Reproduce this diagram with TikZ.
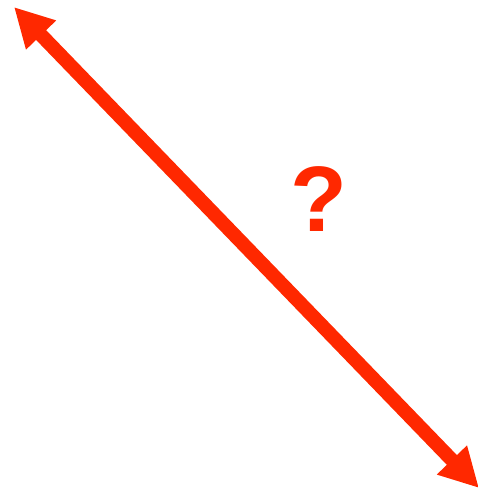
\documentclass[tikz,border=0pt]{standalone}
\usepackage{fontspec}
\setmainfont{Liberation Sans}
\usetikzlibrary{arrows.meta}
\definecolor{arrowred}{RGB}{255,40,0}
\tikzset{
  bigarrow/.style={draw=arrowred, line width=14pt,
    {Triangle[length=39pt,width=39pt]}-{Triangle[length=39pt,width=39pt]}},
  qmark/.style={text=arrowred, inner sep=0pt, font=\fontsize{93}{93}\selectfont\bfseries}
}
\begin{document}
\begin{tikzpicture}[x=1pt,y=-1pt]
\useasboundingbox (0,0) rectangle (477,493);
\coordinate (a) at (14,7);
\coordinate (b) at (479,488);
\draw[bigarrow] (a) -- (b);
\node[qmark] (q) at (319,199) {?};
\end{tikzpicture}
\end{document}
